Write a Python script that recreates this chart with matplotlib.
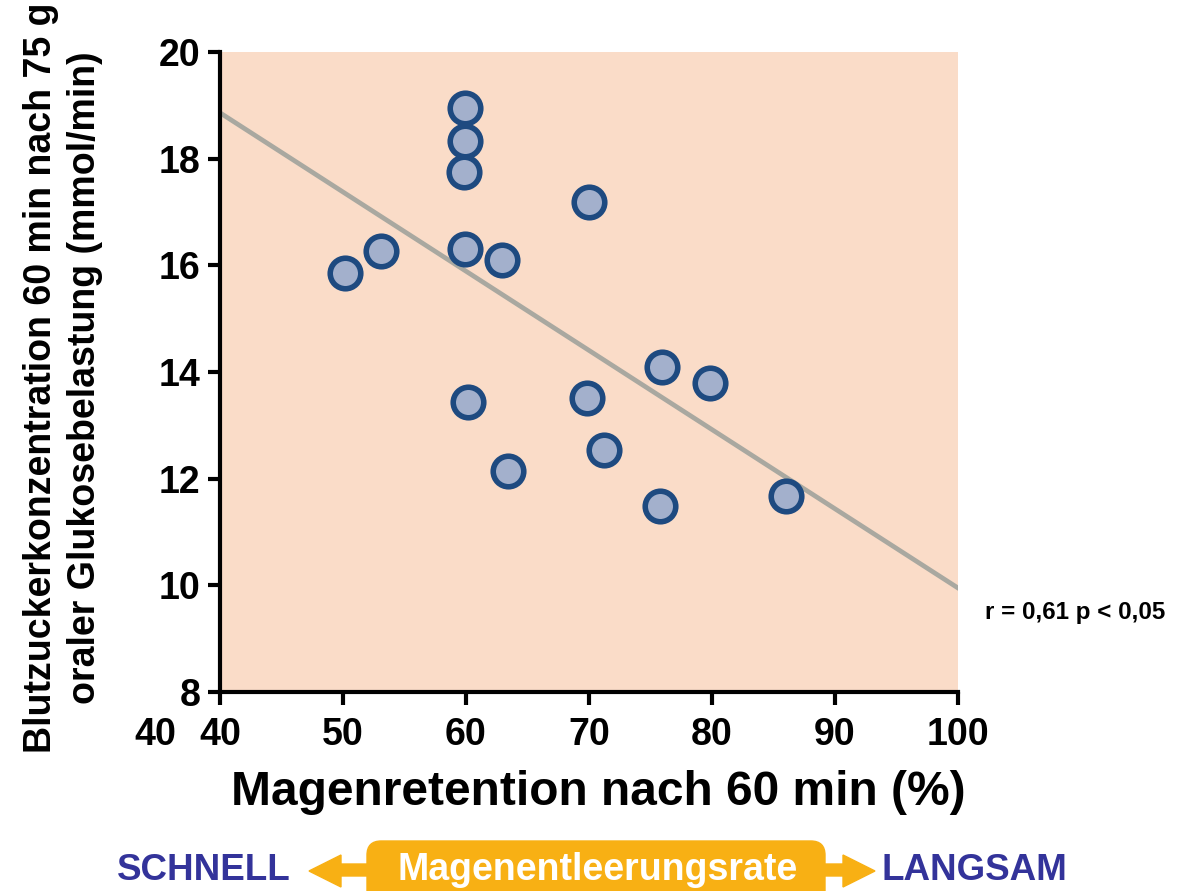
import numpy as np
import matplotlib.pyplot as plt
from matplotlib.patches import FancyBboxPatch, Polygon

plt.rcParams['font.family'] = ['Liberation Sans', 'DejaVu Sans']
plt.rcParams['font.weight'] = 'bold'

# data
retention = [50.2, 53.1, 59.9, 59.9, 59.8, 59.9, 62.9, 60.2, 63.4,
             70.0, 69.8, 71.2, 75.9, 79.8, 75.8, 86.0]
glucose = [15.85, 16.27, 18.95, 18.33, 17.75, 16.30, 16.10, 13.44, 12.15,
           17.18, 13.52, 12.54, 14.09, 13.80, 11.48, 11.67]
fit_x = [40, 100]
fit_y = [18.86, 9.95]
xticks = [40, 50, 60, 70, 80, 90, 100]
yticks = [8, 10, 12, 14, 16, 18, 20]

fig = plt.figure(figsize=(11.82, 8.91), dpi=100)
ax = fig.add_axes([220/1182, 1-692/891, 738/1182, 640/891])
ax.set_facecolor('#FADCC8')

ax.plot(fit_x, fit_y, color='#A9A8A0', lw=3.4, zorder=2)
ax.scatter(retention, glucose, s=22**2, facecolor='#A3B0CC',
           edgecolor='#1E4A80', linewidth=4, zorder=3)

ax.set_xlim(40, 100)
ax.set_ylim(8, 20)
ax.set_xticks(xticks)
ax.set_yticks(yticks)
ax.tick_params(labelsize=27, width=3, length=9, direction='out')
ax.tick_params(axis='x', pad=9)
ax.tick_params(axis='y', pad=5)
for s in ['top', 'right']:
    ax.spines[s].set_visible(False)
for s in ['left', 'bottom']:
    ax.spines[s].set_linewidth(3)

ax.set_xlabel('Magenretention nach 60 min (%)', fontsize=34.5, fontweight='bold',
              labelpad=12, x=0.513)
fig.text(63/1182, 1-378/891, 'Blutzuckerkonzentration 60 min nach 75 g\noraler Glukosebelastung (mmol/min)',
         rotation=90, fontsize=27, fontweight='bold', ha='center', va='center',
         linespacing=1.3)

# stray tick label at far left
fig.text(155/1182, 1-735/891, '40', fontsize=27, fontweight='bold', ha='center', va='center')

fig.text(985/1182, 1-612/891, 'r = 0,61 p < 0,05', fontsize=17.4, fontweight='bold',
         ha='left', va='center')

# bottom banner: arrows + orange box
orange = '#F8B014'
W, H = 1182, 891
def fp(x, y):
    return (x / W, 1 - y / H)

left_arrow = Polygon([fp(309, 871), fp(341, 855), fp(341, 864), fp(370, 864),
                      fp(370, 876), fp(341, 876), fp(341, 887)],
                     closed=True, transform=fig.transFigure, color=orange)
right_arrow = Polygon([fp(875, 871), fp(843, 855), fp(843, 864), fp(820, 864),
                       fp(820, 876), fp(843, 876), fp(843, 887)],
                      closed=True, transform=fig.transFigure, color=orange)
box = FancyBboxPatch(fp(367, 905), (825-367)/W, (905-841)/H,
                     boxstyle='round,pad=0,rounding_size=0.012',
                     transform=fig.transFigure, color=orange, mutation_aspect=W/H)
for p in (left_arrow, right_arrow, box):
    fig.patches.append(p)

fig.text(598/1182, 1-870/891, 'Magenentleerungsrate', fontsize=27, fontweight='bold',
         color='white', ha='center', va='center')
fig.text(204/1182, 1-871/891, 'SCHNELL', fontsize=26.5, fontweight='bold',
         color='#33339A', ha='center', va='center')
fig.text(974/1182, 1-871/891, 'LANGSAM', fontsize=26.5, fontweight='bold',
         color='#33339A', ha='center', va='center')

fig.savefig('out.png', dpi=100)
